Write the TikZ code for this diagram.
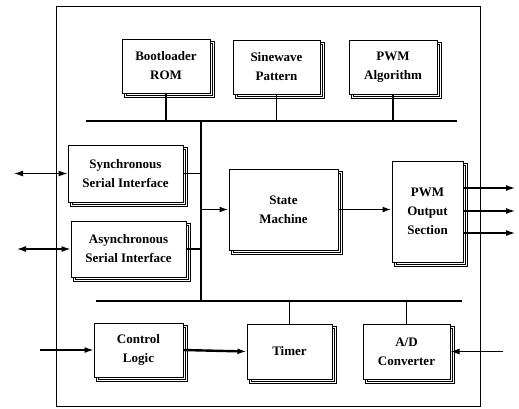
\documentclass[tikz,border=0pt]{standalone}
\usepackage{fontspec}
\setmainfont{Liberation Serif}
\usetikzlibrary{shadows,arrows.meta}

\begin{document}
\begin{tikzpicture}[
    x=1pt, y=-1pt,
    >={Latex[length=9pt,width=6pt]},
    blk/.style={
        draw,
        fill=white,
        line width=1pt,
        align=center,
        font=\bfseries\fontsize{13}{19}\selectfont,
        general shadow={shadow xshift=3.5pt, shadow yshift=-3.5pt,
            draw, fill=white, line width=0.7pt, double=white,
            double distance=1.3pt}
    },
    bus/.style={line width=2.6pt},
    wire/.style={line width=1.8pt}
]
\useasboundingbox (0,0) rectangle (519,408);

% Frame
\draw[line width=0.8pt] (56,6) rectangle (480,406);

% Top row
\node[blk, minimum width=88pt, minimum height=54pt] (boot) at (166,66) {Bootloader\\ROM};
\node[blk, minimum width=87pt, minimum height=54pt] (sine) at (276.5,67) {Sinewave\\Pattern};
\node[blk, minimum width=88pt, minimum height=54pt] (alg) at (393,67) {PWM\\Algorithm};

% Middle
\node[blk, minimum width=115pt, minimum height=57pt] (sync) at (125.5,173.5) {Synchronous\\Serial Interface};
\node[blk, minimum width=115pt, minimum height=56pt] (async) at (128.5,249) {Asynchronous\\Serial Interface};
\node[blk, minimum width=109pt, minimum height=81pt] (sm) at (283.5,209.5) {State\\Machine};
\node[blk, minimum width=71pt, minimum height=101pt] (pwm) at (427.5,211.5) {PWM\\Output\\Section};

% Bottom row
\node[blk, minimum width=89pt, minimum height=54pt] (ctrl) at (138.5,350) {Control\\Logic};
\node[blk, minimum width=85pt, minimum height=55pt] (timer) at (289.5,351.5) {Timer};
\node[blk, minimum width=87pt, minimum height=55pt] (adc) at (406.5,351.5) {A/D\\Converter};

% Buses
\coordinate (tbl) at (86,121);
\coordinate (tbr) at (457,121);
\coordinate (bbl) at (96,301);
\coordinate (bbr) at (462,301);
\coordinate (trt) at (201,121);
\coordinate (trb) at (201,301);

\draw[bus] (tbl) -- (tbr);
\draw[bus] (bbl) -- (bbr);
\draw[wire] (trt) -- (trb);

\draw[wire] (boot.south) -- (boot.south |- tbl);
\draw[wire] (sine.south) -- (sine.south |- tbl);
\draw[wire] (alg.south) -- (alg.south |- tbl);
\draw[wire] (timer.north) -- (timer.north |- bbl);
\draw[wire] (adc.north) -- (adc.north |- bbl);

\draw[wire] (sync.east) -- (sync.east -| trt);
\draw[wire] (async.east) -- (async.east -| trt);
\draw[wire,->] (sm.west -| trt) -- (sm.west);
\draw[wire,->] (sm.east) -- (sm.east -| pwm.west);

% Outside signals
\coordinate (ssi) at (14,173.5);
\coordinate (asi) at (17,249);
\coordinate (cin) at (40,350);
\coordinate (ain) at (503,351.5);
\coordinate (out1) at (515,188);
\coordinate (out2) at (515,211);
\coordinate (out3) at (515,233);

\draw[line width=1.2pt,<->] (ssi) -- (sync.west);
\draw[line width=1.2pt,<->] (asi) -- (async.west);
\draw[line width=1.2pt,->] (cin) -- (ctrl.west);
\draw[line width=1.2pt,->] (ain) -- (adc.east);
\draw[line width=2.4pt,->] (ctrl.east) -- (timer.west);
\draw[line width=1.2pt,->] (pwm.east |- out1) -- (out1);
\draw[line width=1.2pt,->] (pwm.east |- out2) -- (out2);
\draw[line width=1.2pt,->] (pwm.east |- out3) -- (out3);

\end{tikzpicture}
\end{document}
